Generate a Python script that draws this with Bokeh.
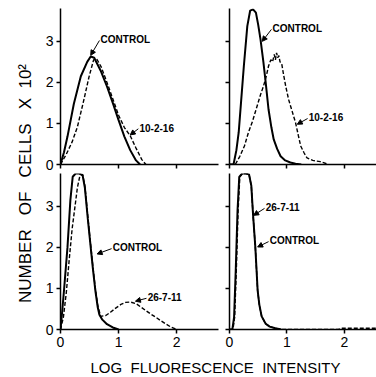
from math import pi
from bokeh.plotting import figure
from bokeh.layouts import row, column
from bokeh.models import Range1d, Label, Arrow, NormalHead, FixedTicker
from bokeh.embed import file_html
from bokeh.resources import INLINE

# ---------------- data (log fluorescence intensity vs cells x 10^2) ----------------
# top-left panel
tl_control_x = [0.0, 0.06, 0.12, 0.23, 0.35, 0.46, 0.52, 0.58, 0.69, 0.80, 0.90, 1.00, 1.10, 1.20, 1.30, 1.37]
tl_control_y = [0.0, 0.30, 0.68, 1.48, 2.15, 2.50, 2.63, 2.60, 2.29, 1.90, 1.50, 1.08, 0.68, 0.35, 0.10, 0.0]
tl_treated_x = [0.0, 0.10, 0.20, 0.29, 0.40, 0.49, 0.57, 0.62, 0.70, 0.80, 0.90, 1.00, 1.10, 1.20, 1.30, 1.40, 1.47]
tl_treated_y = [0.0, 0.25, 0.55, 0.91, 1.56, 2.13, 2.55, 2.58, 2.38, 2.00, 1.60, 1.20, 0.90, 0.70, 0.40, 0.12, 0.0]

# top-right panel
tr_control_x = [0.0, 0.07, 0.12, 0.16, 0.20, 0.25, 0.31, 0.36, 0.41, 0.46, 0.50, 0.54, 0.59, 0.63, 0.68, 0.73,
                0.77, 0.83, 0.89, 0.97, 1.06, 1.15, 1.25]
tr_control_y = [0.0, 0.0, 0.35, 0.78, 1.50, 2.40, 3.37, 3.75, 3.78, 3.70, 3.40, 3.05, 2.50, 2.00, 1.34, 0.90,
                0.61, 0.38, 0.20, 0.10, 0.05, 0.02, 0.0]
tr_treated_x = [0.0, 0.10, 0.18, 0.26, 0.33, 0.40, 0.48, 0.54, 0.59, 0.64, 0.68, 0.72, 0.75, 0.78, 0.80, 0.82,
                0.84, 0.86, 0.88, 0.91, 0.94, 0.98, 1.03, 1.09, 1.15, 1.20, 1.24, 1.30, 1.35, 1.45, 1.58, 1.65, 1.72]
tr_treated_y = [0.0, 0.0, 0.20, 0.45, 0.78, 1.05, 1.42, 1.70, 1.90, 2.15, 2.40, 2.55, 2.50, 2.68, 2.55, 2.72,
                2.60, 2.65, 2.50, 2.45, 2.20, 1.90, 1.58, 1.30, 1.02, 0.70, 0.45, 0.28, 0.16, 0.10, 0.07, 0.04, 0.0]

# bottom-left panel
bl_control_x = [0.0, 0.03, 0.06, 0.12, 0.17, 0.21, 0.26, 0.32, 0.38, 0.42, 0.47, 0.52, 0.56, 0.60, 0.64, 0.67,
                0.72, 0.80, 0.90, 1.00]
bl_control_y = [0.0, 0.45, 0.95, 2.00, 3.15, 3.72, 3.80, 3.80, 3.76, 3.45, 2.70, 2.00, 1.45, 0.95, 0.55, 0.36,
                0.24, 0.13, 0.05, 0.0]
bl_treated_x = [0.0, 0.05, 0.10, 0.15, 0.20, 0.25, 0.29, 0.33, 0.38, 0.42, 0.47, 0.52, 0.56, 0.60, 0.64, 0.69,
                0.78, 0.86, 0.95, 1.05, 1.12, 1.20, 1.30, 1.38, 1.47, 1.55, 1.65, 1.72, 1.82, 1.90, 2.00]
bl_treated_y = [0.0, 0.30, 0.90, 1.70, 2.45, 3.00, 3.45, 3.72, 3.78, 3.50, 2.75, 2.05, 1.50, 1.00, 0.60, 0.32,
                0.34, 0.42, 0.52, 0.62, 0.66, 0.67, 0.63, 0.55, 0.46, 0.38, 0.29, 0.22, 0.13, 0.06, 0.0]

# bottom-right panel
br_control_x = [0.0, 0.05, 0.08, 0.11, 0.14, 0.17, 0.22, 0.28, 0.34, 0.38, 0.41, 0.45, 0.49, 0.52, 0.56, 0.63,
                0.70, 0.80, 0.90]
br_control_y = [0.0, 0.0, 0.30, 1.50, 2.90, 3.72, 3.80, 3.80, 3.78, 3.50, 2.80, 2.00, 0.95, 0.60, 0.32, 0.14,
                0.07, 0.03, 0.0]
br_treated_x = [0.0, 0.06, 0.09, 0.12, 0.15, 0.18, 0.23, 0.29, 0.34, 0.38, 0.41, 0.45, 0.49, 0.52, 0.56, 0.63,
                0.70, 0.80, 0.90, 1.90, 1.95, 2.56]
br_treated_y = [0.0, 0.0, 0.30, 1.50, 2.90, 3.72, 3.80, 3.80, 3.78, 3.50, 2.80, 2.00, 0.95, 0.60, 0.32, 0.14,
                0.07, 0.03, 0.0, 0.0, 0.03, 0.03]

x_ticks = [0, 1, 2]
y_ticks = [0, 1, 2, 3]
NB = "\u00a0"
y_title = "NUMBER" + NB * 3 + "OF" + NB * 3 + "CELLS" + NB * 3 + "X" + NB * 2 + "10\u00b2"
x_title = "LOG" + NB * 2 + "FLUORESCENCE" + NB * 2 + "INTENSITY"

FONT = "Liberation Sans"


def panel(width, height, xend, bl, br, bt, bb, xlabels, ylabels):
    p = figure(width=width, height=height, output_backend="svg", toolbar_location=None,
               x_range=Range1d(0, xend), y_range=Range1d(0, 3.8),
               min_border_left=bl, min_border_right=br, min_border_top=bt, min_border_bottom=bb)
    p.outline_line_color = None
    p.grid.visible = False
    p.background_fill_color = "white"
    p.border_fill_color = "white"
    for ax in (p.xaxis[0], p.yaxis[0]):
        ax.axis_line_width = 1.5
        ax.axis_line_color = "black"
        ax.major_tick_line_width = 1.5
        ax.major_tick_line_color = "black"
        ax.major_tick_out = 4
        ax.major_tick_in = 0
        ax.minor_tick_line_color = None
        ax.major_label_text_font = FONT
        ax.major_label_text_font_size = "14px"
        ax.major_label_text_color = "black"
        ax.major_label_standoff = 3
    p.xaxis.ticker = FixedTicker(ticks=x_ticks)
    p.yaxis.ticker = FixedTicker(ticks=y_ticks)
    if not xlabels:
        p.xaxis.major_label_overrides = {t: "" for t in x_ticks}
        p.xaxis.major_label_text_font_size = "0px"
        p.xaxis.major_label_standoff = 0
    if not ylabels:
        p.yaxis.major_label_overrides = {t: "" for t in y_ticks}
        p.yaxis.major_label_text_font_size = "0px"
        p.yaxis.major_label_standoff = 0
    return p


def curves(p, cx, cy, tx, ty):
    p.line(cx, cy, line_color="black", line_width=2)
    p.line(tx, ty, line_color="black", line_width=1.4, line_dash="4 2")


def note(p, text, tx, ty, ax, ay):
    p.add_layout(Label(x=tx, y=ty, text=text, text_font=FONT, text_font_size="10px",
                       text_font_style="bold", text_color="black",
                       text_align="left", text_baseline="middle"))
    p.add_layout(Arrow(x_start=tx - 0.02, y_start=ty - 0.03, x_end=ax, y_end=ay,
                       line_color="black", line_width=1,
                       end=NormalHead(size=5, fill_color="black", line_color="black")))


# widths: title 36 | left 186 (frame 60..218) | right 154 (frame 229..376)
# heights: top 173 (frame 8..164) | bottom 181 (frame 173..329) | x title 22
tl = panel(186, 173, 2.72, 24, 4, 8, 9, False, True)
curves(tl, tl_control_x, tl_control_y, tl_treated_x, tl_treated_y)
note(tl, "CONTROL", 0.69, 3.05, 0.52, 2.66)
note(tl, "10-2-16", 1.36, 0.9, 1.2, 0.72)

tr = panel(154, 173, 2.56, 7, 0, 8, 9, False, False)
curves(tr, tr_control_x, tr_control_y, tr_treated_x, tr_treated_y)
note(tr, "CONTROL", 0.75, 3.32, 0.57, 3.0)
note(tr, "10-2-16", 1.38, 1.15, 1.18, 0.98)

bl = panel(186, 181, 2.72, 24, 4, 0, 25, True, True)
curves(bl, bl_control_x, bl_control_y, bl_treated_x, bl_treated_y)
note(bl, "CONTROL", 0.9, 2.0, 0.63, 1.84)
note(bl, "26-7-11", 1.5, 0.79, 1.29, 0.69)

br = panel(154, 181, 2.56, 7, 0, 0, 25, True, False)
curves(br, br_control_x, br_control_y, br_treated_x, br_treated_y)
note(br, "26-7-11", 0.63, 2.98, 0.42, 2.78)
note(br, "CONTROL", 0.7, 2.17, 0.49, 2.01)


def title_fig(width, height, text, x, y, angle, size):
    f = figure(width=width, height=height, output_backend="svg", toolbar_location=None,
               x_range=Range1d(0, 1), y_range=Range1d(0, 1), x_axis_type=None, y_axis_type=None,
               min_border=0)
    f.outline_line_color = None
    f.grid.visible = False
    f.add_layout(Label(x=x, y=y, x_units="screen", y_units="screen", text=text, angle=angle,
                       text_font=FONT, text_font_size=size, text_color="black",
                       text_align="center", text_baseline="middle"))
    return f


yfig = title_fig(36, 354, y_title, 25, 171, pi / 2, "17px")
xfig = title_fig(376, 22, x_title, 215, 9, 0, "15px")

layout = column(row(yfig, column(row(tl, tr), row(bl, br))), xfig)

open("out.html", "w").write(file_html(layout, INLINE))
